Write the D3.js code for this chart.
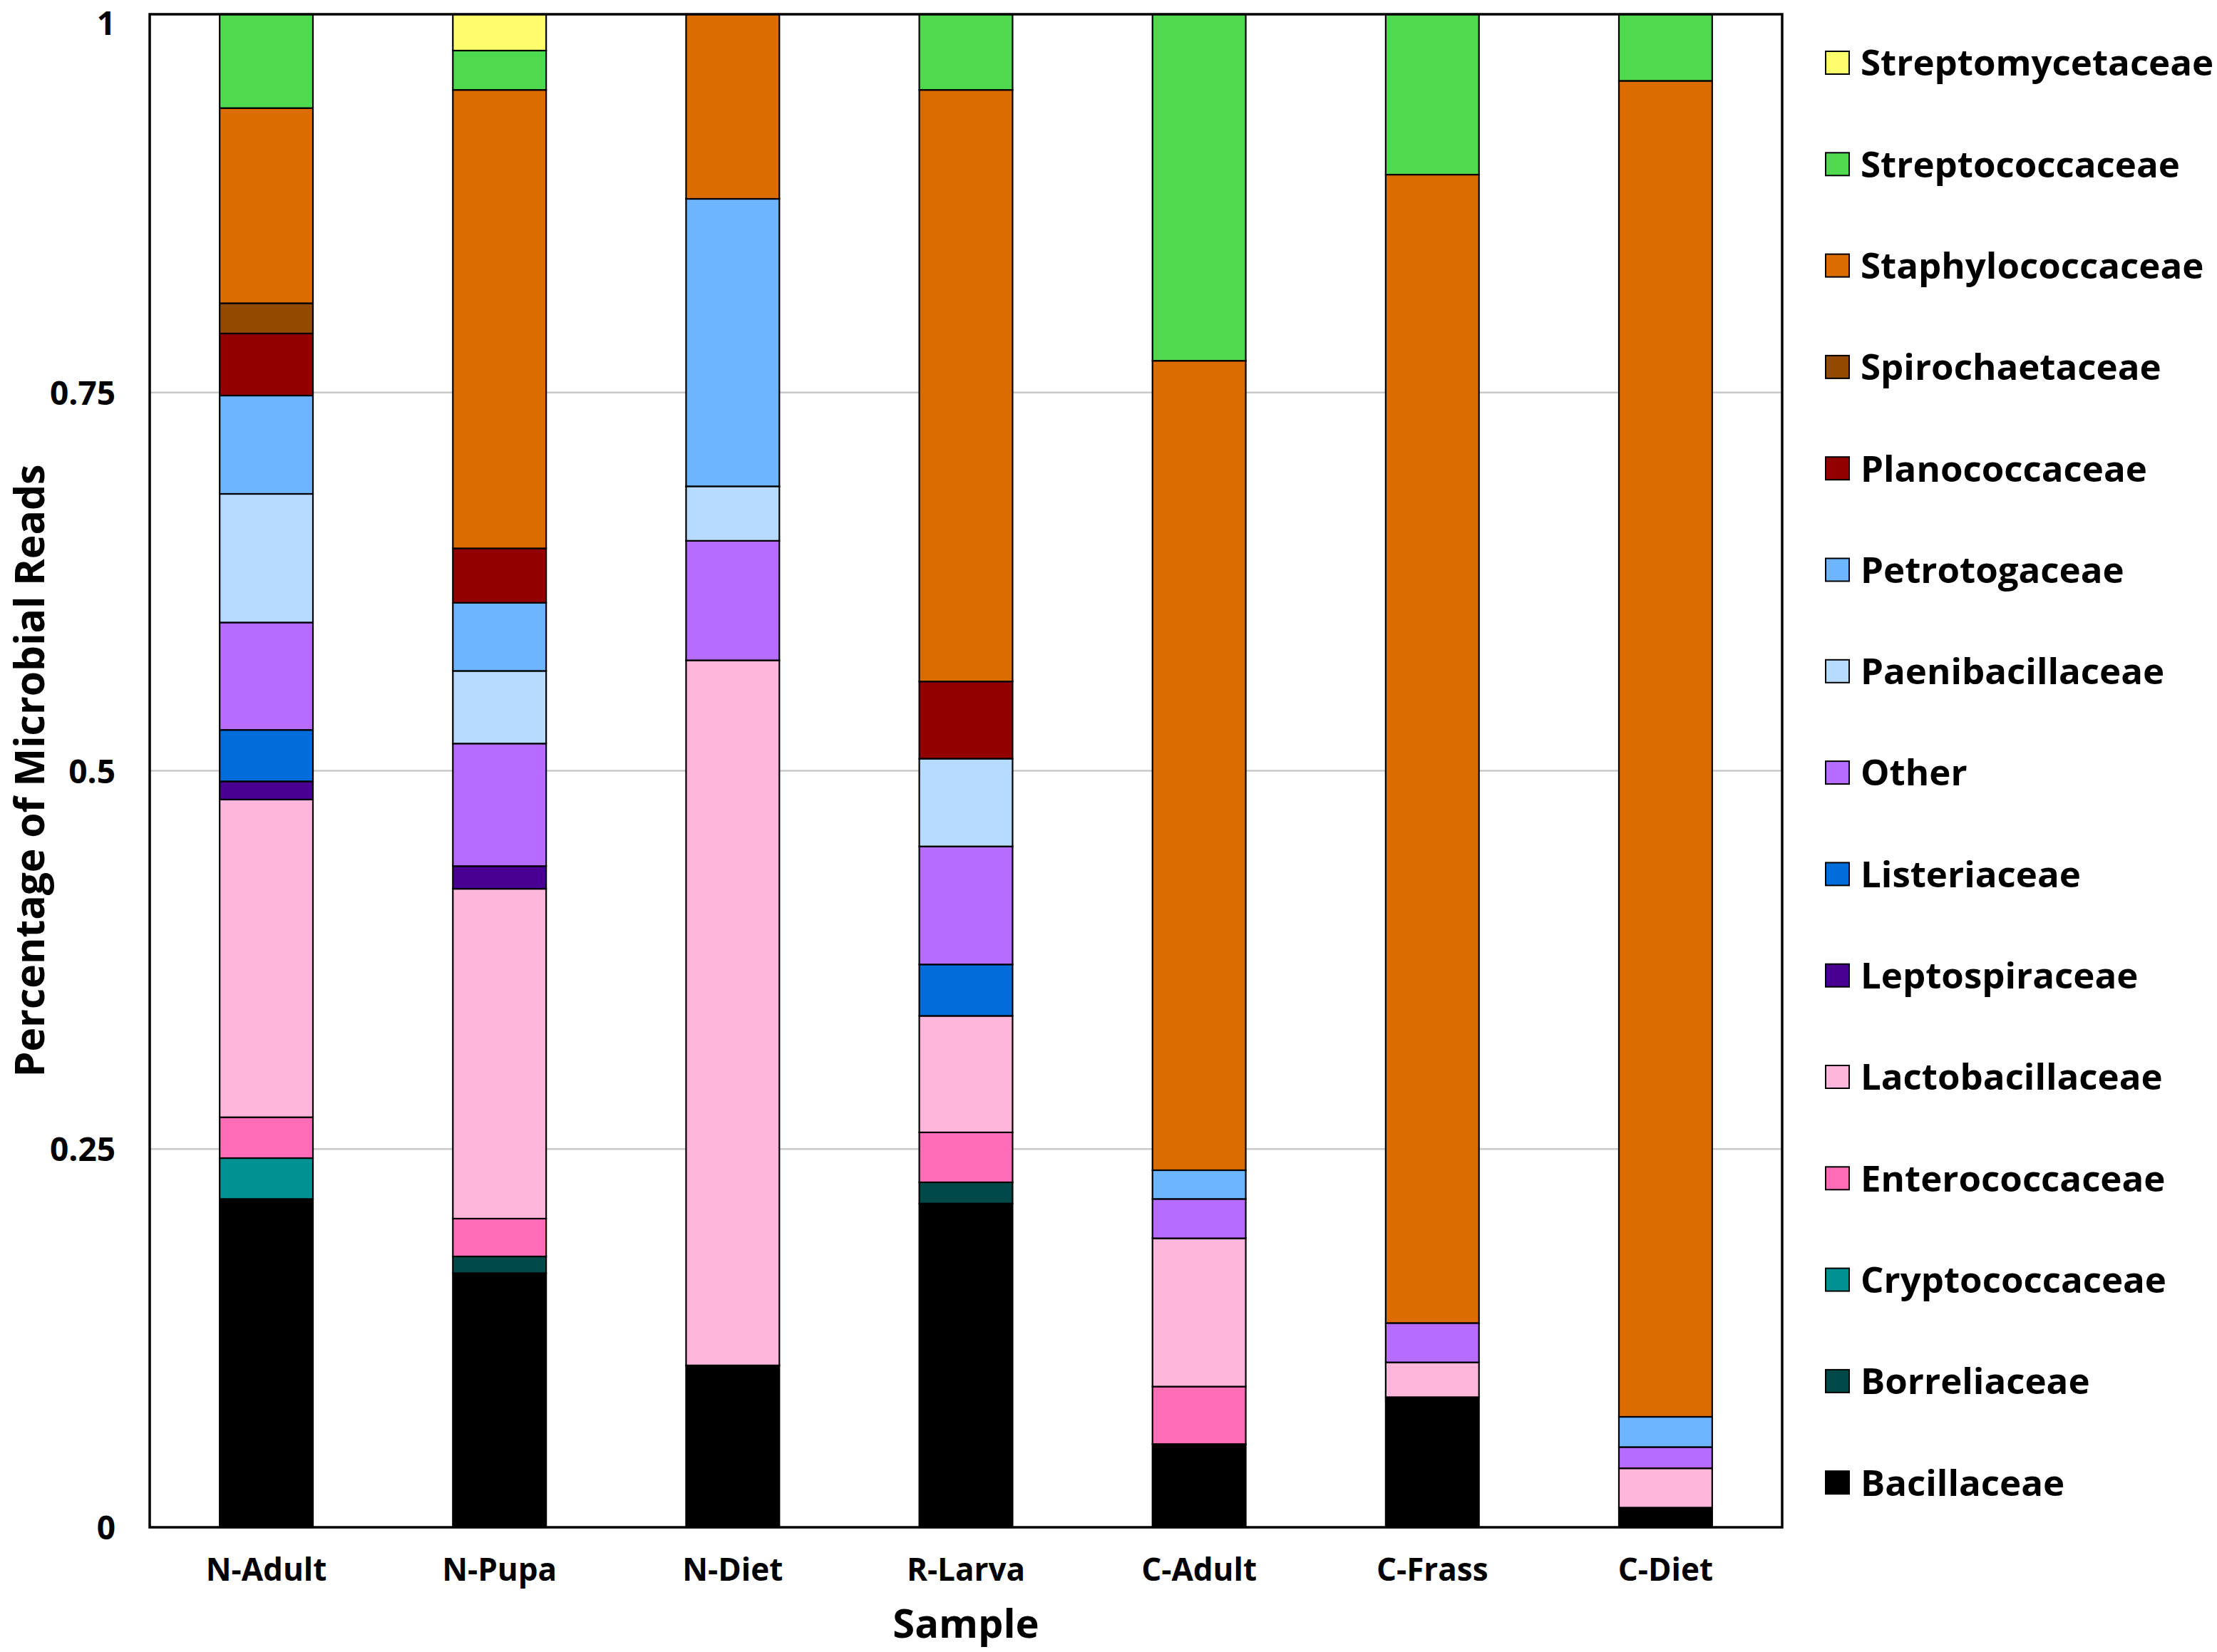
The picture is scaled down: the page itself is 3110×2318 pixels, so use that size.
<!DOCTYPE html>
<html>
<head>
<meta charset="utf-8">
<script src="https://cdn.jsdelivr.net/npm/d3@7"></script>
<style>
  html, body { margin: 0; padding: 0; background: #fff; }
  svg text { font-family: "Open Sans", "Noto Sans", sans-serif; font-weight: 700; fill: #000; }
</style>
</head>
<body>
<svg id="chart" width="3110" height="2318"></svg>
<script>
// samples along the x axis
var samples = ['N-Adult', 'N-Pupa', 'N-Diet', 'R-Larva', 'C-Adult', 'C-Frass', 'C-Diet'];

// families, bottom of the stack first
var families = ['Bacillaceae', 'Borreliaceae', 'Cryptococcaceae', 'Enterococcaceae', 'Lactobacillaceae',
  'Leptospiraceae', 'Listeriaceae', 'Other', 'Paenibacillaceae', 'Petrotogaceae', 'Planococcaceae',
  'Spirochaetaceae', 'Staphylococcaceae', 'Streptococcaceae', 'Streptomycetaceae'];

var familyColors = ['#000000', '#004949', '#009292', '#ff6db6', '#ffb6db',
  '#490092', '#006ddb', '#b66dff', '#b6dbff', '#6db6ff', '#920000',
  '#924900', '#db6d00', '#4fd94f', '#ffff6d'];

// fraction of reads per family, one value per sample (same order as samples)
var bacillaceae       = [0.217, 0.168, 0.107, 0.214, 0.055, 0.086, 0.013];
var borreliaceae      = [0.000, 0.011, 0.000, 0.014, 0.000, 0.000, 0.000];
var cryptococcaceae   = [0.027, 0.000, 0.000, 0.000, 0.000, 0.000, 0.000];
var enterococcaceae   = [0.027, 0.025, 0.000, 0.033, 0.038, 0.000, 0.000];
var lactobacillaceae  = [0.210, 0.218, 0.466, 0.077, 0.098, 0.023, 0.026];
var leptospiraceae    = [0.012, 0.015, 0.000, 0.000, 0.000, 0.000, 0.000];
var listeriaceae      = [0.034, 0.000, 0.000, 0.034, 0.000, 0.000, 0.000];
var other             = [0.071, 0.081, 0.079, 0.078, 0.026, 0.026, 0.014];
var paenibacillaceae  = [0.085, 0.048, 0.036, 0.058, 0.000, 0.000, 0.000];
var petrotogaceae     = [0.065, 0.045, 0.190, 0.000, 0.019, 0.000, 0.020];
var planococcaceae    = [0.041, 0.036, 0.000, 0.051, 0.000, 0.000, 0.000];
var spirochaetaceae   = [0.020, 0.000, 0.000, 0.000, 0.000, 0.000, 0.000];
var staphylococcaceae = [0.129, 0.303, 0.122, 0.391, 0.535, 0.759, 0.883];
var streptococcaceae  = [0.062, 0.026, 0.000, 0.050, 0.229, 0.106, 0.044];
var streptomycetaceae = [0.000, 0.024, 0.000, 0.000, 0.000, 0.000, 0.000];

var yTicks = [0, 0.25, 0.5, 0.75, 1];
var yTickLabels = ['0', '0.25', '0.5', '0.75', '1'];

var seriesValues = [bacillaceae, borreliaceae, cryptococcaceae, enterococcaceae, lactobacillaceae,
  leptospiraceae, listeriaceae, other, paenibacillaceae, petrotogaceae, planococcaceae,
  spirochaetaceae, staphylococcaceae, streptococcaceae, streptomycetaceae];

// build rows for d3.stack
var rows = samples.map(function(s, i) {
  var row = { sample: s };
  families.forEach(function(f, k) { row[f] = seriesValues[k][i]; });
  return row;
});

var margin = { left: 210, right: 610, top: 20, bottom: 175 };
var W = 3110, H = 2318;
var plotW = W - margin.left - margin.right,
    plotH = H - margin.top - margin.bottom;

var svg = d3.select('#chart');
var g = svg.append('g').attr('transform', 'translate(' + margin.left + ',' + margin.top + ')');

var x = d3.scaleBand().domain(samples).range([0, plotW]).paddingInner(0.6).paddingOuter(0.3);
var y = d3.scaleLinear().domain([0, 1]).range([plotH, 0]);
var color = d3.scaleOrdinal().domain(families).range(familyColors);

// gridlines
g.append('g')
  .selectAll('line')
  .data(yTicks.filter(function(t) { return t > 0 && t < 1; }))
  .enter().append('line')
  .attr('x1', 0).attr('x2', plotW)
  .attr('y1', function(d) { return y(d); })
  .attr('y2', function(d) { return y(d); })
  .attr('stroke', '#c9c9c9')
  .attr('stroke-width', 2.5);

var stacked = d3.stack().keys(families)(rows);

var layer = g.selectAll('.layer')
  .data(stacked)
  .enter().append('g')
  .attr('class', 'layer')
  .attr('fill', function(d) { return color(d.key); });

layer.selectAll('rect')
  .data(function(d) { return d.filter(function(p) { return p[1] - p[0] > 0; }); })
  .enter().append('rect')
  .attr('x', function(d) { return x(d.data.sample); })
  .attr('width', x.bandwidth())
  .attr('y', function(d) { return y(d[1]); })
  .attr('height', function(d) { return y(d[0]) - y(d[1]); })
  .attr('stroke', '#000')
  .attr('stroke-width', 2.2);

// frame around the plot area
g.append('rect')
  .attr('x', 0).attr('y', 0)
  .attr('width', plotW).attr('height', plotH)
  .attr('fill', 'none')
  .attr('stroke', '#000')
  .attr('stroke-width', 3.5);

// y axis
var yAxis = d3.axisLeft(y)
  .tickValues(yTicks)
  .tickFormat(function(d, i) { return yTickLabels[i]; })
  .tickSize(0)
  .tickPadding(48);

var yg = g.append('g').call(yAxis);
yg.select('.domain').remove();
yg.selectAll('text')
  .style('font-size', '46px')
  // top label nudged down a little so it stays inside the page
  .attr('dy', function(d) { return d === 1 ? '0.62em' : '0.36em'; });

// x axis
var xAxis = d3.axisBottom(x).tickSize(0).tickPadding(44);
var xg = g.append('g').attr('transform', 'translate(0,' + plotH + ')').call(xAxis);
xg.select('.domain').remove();
xg.selectAll('text')
  .style('font-size', '44px')
  .attr('dy', '0.71em');

// axis titles
svg.append('text')
  .attr('x', margin.left + plotW / 2)
  .attr('y', 2298)
  .attr('text-anchor', 'middle')
  .style('font-size', '56px')
  .text('Sample');

svg.append('text')
  .attr('transform', 'translate(62,' + (margin.top + plotH / 2) + ') rotate(-90)')
  .attr('text-anchor', 'middle')
  .style('font-size', '57px')
  .text('Percentage of Microbial Reads');

// legend, top entry is the top of the stack
var legendItems = families.slice().reverse();
var legend = svg.append('g').attr('transform', 'translate(2561,88)');

var item = legend.selectAll('.legend')
  .data(legendItems)
  .enter().append('g')
  .attr('class', 'legend')
  .attr('transform', function(d, i) { return 'translate(0,' + (i * 142.3) + ')'; });

item.append('rect')
  .attr('x', 0).attr('y', -16)
  .attr('width', 33).attr('height', 32)
  .attr('fill', function(d) { return color(d); })
  .attr('stroke', '#000')
  .attr('stroke-width', 2);

item.append('text')
  .attr('x', 49)
  .attr('dy', '0.36em')
  .style('font-size', '51px')
  .text(function(d) { return d; });
</script>
</body>
</html>
